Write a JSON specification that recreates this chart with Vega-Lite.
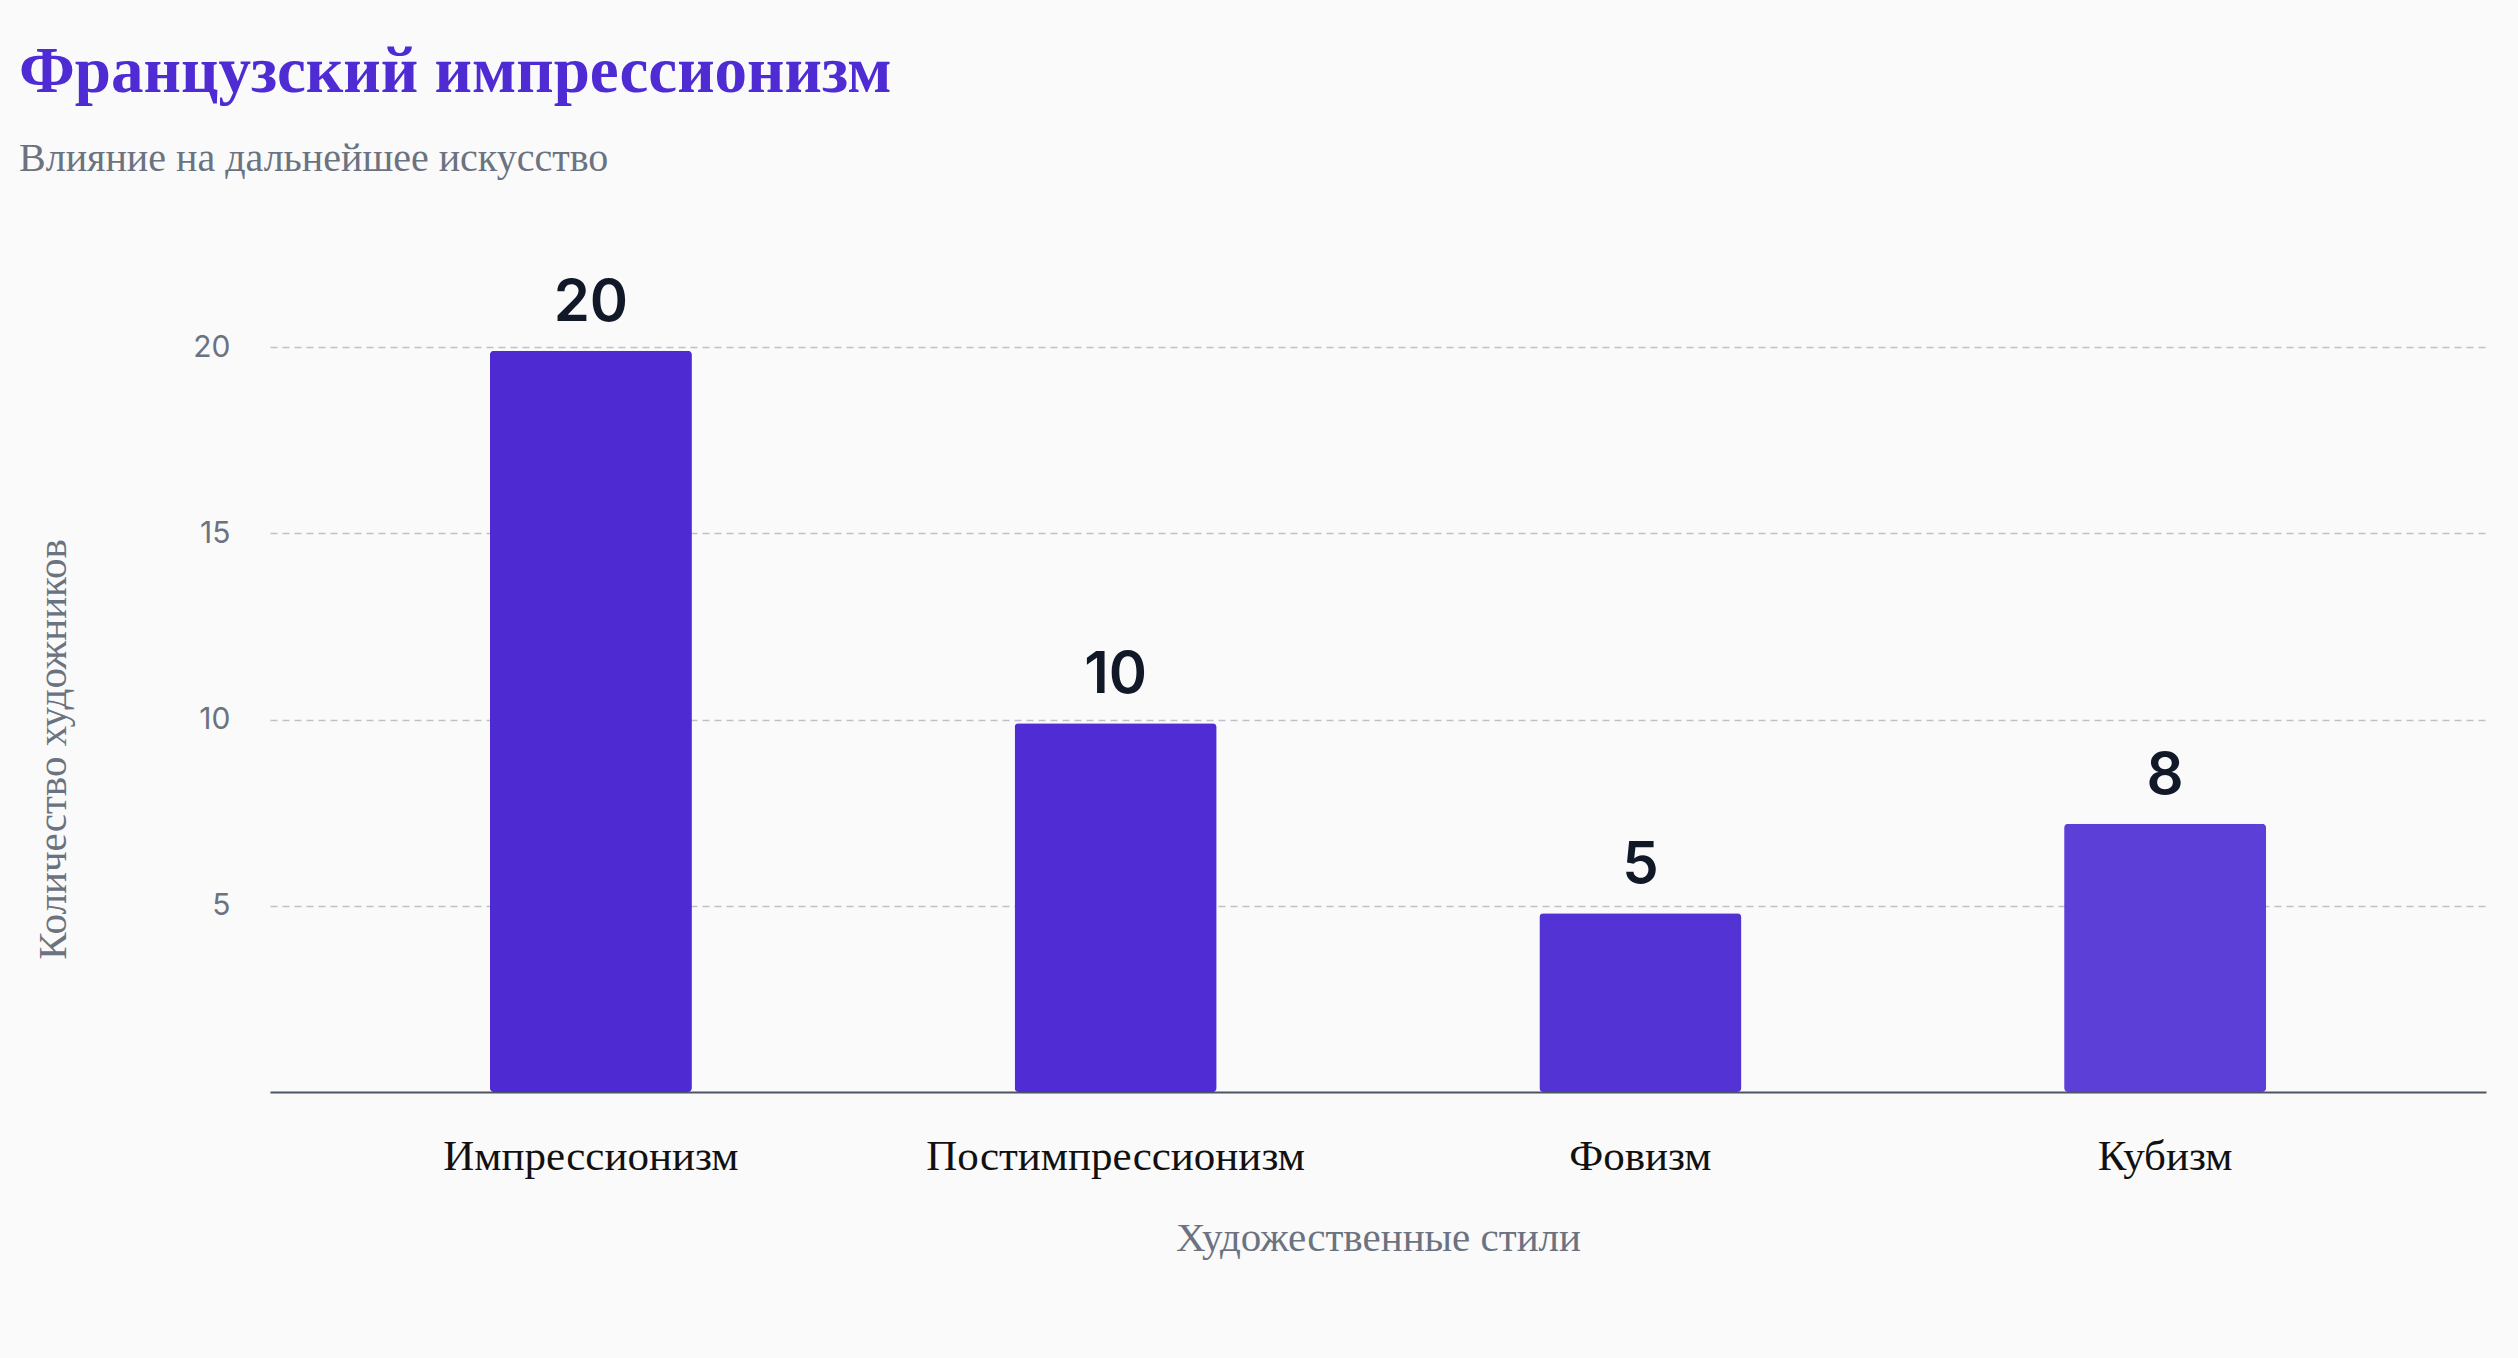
{
  "$schema": "https://vega.github.io/schema/vega-lite/v6.json",
  "width": 2216,
  "height": 745,
  "autosize": {"type": "none"},
  "padding": {"left": 270, "top": 347, "right": 32, "bottom": 266},
  "background": "#fafafa",
  "view": {"stroke": null},
  "title": {
    "text": "Французский импрессионизм",
    "subtitle": "Влияние на дальнейшее искусство",
    "anchor": "start",
    "frame": "group",
    "dx": -251,
    "offset": 95,
    "font": "Liberation Serif",
    "fontSize": 65,
    "fontWeight": "bold",
    "color": "#4F2BD3",
    "subtitleFont": "Liberation Serif",
    "subtitleFontSize": 40,
    "subtitleColor": "#6b7280",
    "subtitlePadding": 33
  },
  "data": {
    "values": [
      {"style": "Импрессионизм", "count": 20, "bar": 19.9},
      {"style": "Постимпрессионизм", "count": 10, "bar": 9.9},
      {"style": "Фовизм", "count": 5, "bar": 4.8},
      {"style": "Кубизм", "count": 8, "bar": 7.2}
    ]
  },
  "encoding": {
    "x": {
      "field": "style",
      "type": "nominal",
      "sort": null,
      "title": "Художественные стили",
      "scale": {"paddingInner": 0.615, "paddingOuter": 0.419},
      "axis": {
        "labelAngle": 0,
        "labelLimit": 0,
        "labelFont": "Liberation Serif",
        "labelFontSize": 43,
        "labelColor": "#111111",
        "labelPadding": 43,
        "ticks": false,
        "domainColor": "#4b5563",
        "domainWidth": 2,
        "titleFont": "Liberation Serif",
        "titleFontSize": 41,
        "titleFontWeight": "normal",
        "titleColor": "#6b7280",
        "titlePadding": 40
      }
    }
  },
  "layer": [
    {
      "mark": {"type": "bar", "cornerRadius": 4},
      "encoding": {
        "y": {
          "field": "bar",
          "type": "quantitative",
          "title": "Количество художников",
          "scale": {"domain": [0, 20]},
          "axis": {
            "values": [5, 10, 15, 20],
            "domain": false,
            "ticks": false,
            "labelFont": "Inter",
            "labelFontSize": 30,
            "labelColor": "#6b7280",
            "labelPadding": 40,
            "gridColor": "#c0c0c8",
            "gridDash": [7, 5],
            "gridWidth": 1.5,
            "titleFont": "Liberation Serif",
            "titleFontSize": 41,
            "titleFontWeight": "normal",
            "titleColor": "#6b7280",
            "titlePadding": 118,
            "titleY": 402
          }
        },
        "color": {
          "field": "style",
          "type": "nominal",
          "legend": null,
          "scale": {
            "domain": ["Импрессионизм", "Постимпрессионизм", "Фовизм", "Кубизм"],
            "range": ["#4D2AD2", "#502CD4", "#5433D4", "#5C3FD6"]
          }
        }
      }
    },
    {
      "mark": {
        "type": "text",
        "baseline": "alphabetic",
        "dy": -30,
        "font": "Inter",
        "fontSize": 58,
        "fontWeight": 600,
        "color": "#111827"
      },
      "encoding": {
        "y": {"field": "bar", "type": "quantitative"},
        "text": {"field": "count", "type": "quantitative"}
      }
    }
  ]
}
